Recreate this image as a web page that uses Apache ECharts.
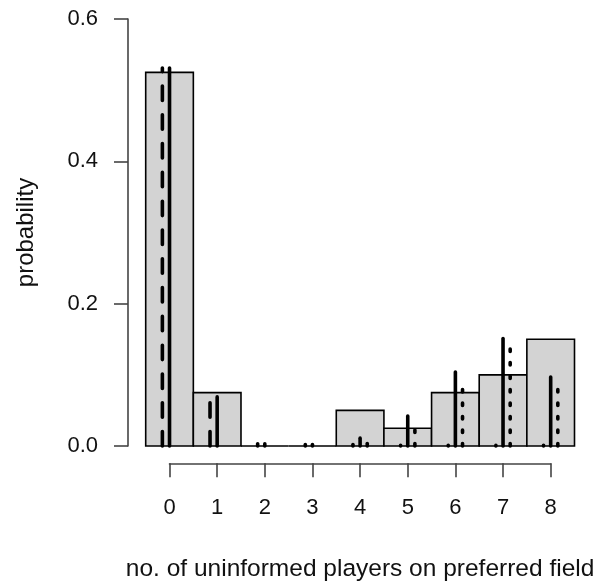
<!DOCTYPE html>
<html>
<head>
<meta charset="utf-8">
<script src="https://cdn.jsdelivr.net/npm/echarts@6/dist/echarts.min.js"></script>
<style>
html,body{margin:0;padding:0;background:#fff;}
#chart{width:600px;height:586px;}
</style>
</head>
<body>
<div id="chart"></div>
<script>
// categories: number of uninformed players on preferred field
const categories = [0, 1, 2, 3, 4, 5, 6, 7, 8];
// histogram bar probabilities
const barProb = [0.525, 0.075, 0, 0, 0.05, 0.025, 0.075, 0.1, 0.15];
// vertical line values (dashed left, solid centre, dotted right)
const dashedVals = [0.531, 0.066, 0.003, 0.002, 0.002, 0.001, 0.001, 0.001, 0.001];
const solidVals  = [0.531, 0.069, 0.003, 0.002, 0.011, 0.042, 0.104, 0.151, 0.097];
const dottedVals = [0.000, 0.000, 0.000, 0.000, 0.0075, 0.028, 0.092, 0.151, 0.093];
const yTickValues = [0, 0.2, 0.4, 0.6];
const xTitle = 'no. of uninformed players on preferred field';
const yTitle = 'probability';

const FONT = 'Liberation Sans, Arial, Helvetica, sans-serif';
const AXIS_COLOR = '#444';

const chart = echarts.init(document.getElementById('chart'), null, {renderer: 'canvas'});

function barRender(params, api) {
  const x = api.value(0), v = api.value(1);
  const p0 = api.coord([x - 0.5, 0]);
  const p1 = api.coord([x + 0.5, v]);
  return {
    type: 'rect',
    shape: {x: p0[0], y: p1[1], width: p1[0] - p0[0], height: p0[1] - p1[1]},
    style: {fill: '#d3d3d3', stroke: '#000', lineWidth: 1.6}
  };
}
function lineRenderer(offset, dash) {
  return function (params, api) {
    const x = api.value(0) + offset, v = api.value(1);
    const p0 = api.coord([x, 0]);
    const p1 = api.coord([x, v]);
    return {
      type: 'line',
      shape: {x1: p0[0], y1: p0[1], x2: p1[0], y2: p1[1]},
      style: {stroke: '#000', lineWidth: 3.6, lineDash: dash, lineCap: 'round', fill: null}
    };
  };
}
const pairs = arr => categories.map((c, i) => [c, arr[i]]);

chart.setOption({
  animation: false,
  grid: [
    {left: 145.7, right: 25.5, top: 19, bottom: 140, outerBoundsMode: 'none', containLabel: false},
    {left: 169.5, right: 49.3, top: 19, bottom: 140, outerBoundsMode: 'none', containLabel: false}
  ],
  xAxis: [
    {type: 'value', gridIndex: 0, min: -0.5, max: 8.5, show: false},
    {type: 'value', gridIndex: 1, min: 0, max: 8, interval: 1, position: 'bottom', offset: 17.3,
     axisLine: {show: true, onZero: false, lineStyle: {color: AXIS_COLOR, width: 1.6}},
     axisTick: {show: true, length: 14, lineStyle: {color: AXIS_COLOR, width: 1.6}},
     splitLine: {show: false},
     axisLabel: {show: true, margin: 34, color: '#111', fontSize: 22, fontFamily: FONT,
                 formatter: v => String(v), showMinLabel: true, showMaxLabel: true},
     name: xTitle, nameLocation: 'middle', nameGap: 93,
     nameTextStyle: {color: '#111', fontSize: 24.5, fontFamily: FONT, verticalAlign: 'top'}}
  ],
  yAxis: [
    {type: 'value', gridIndex: 0, min: 0, max: 0.6, interval: 0.2, position: 'left', offset: 17.7,
     axisLine: {show: true, onZero: false, lineStyle: {color: AXIS_COLOR, width: 1.6}},
     axisTick: {show: true, length: 14, lineStyle: {color: AXIS_COLOR, width: 1.6}},
     splitLine: {show: false},
     axisLabel: {show: true, margin: 30, color: '#111', fontSize: 22, fontFamily: FONT,
                 formatter: v => yTickValues.indexOf(Math.round(v * 10) / 10) >= 0 ? v.toFixed(1) : ''},
     name: yTitle, nameLocation: 'middle', nameGap: 90, nameRotate: 90,
     nameTextStyle: {color: '#111', fontSize: 24, fontFamily: FONT}},
    {type: 'value', gridIndex: 1, min: 0, max: 0.6, show: false}
  ],
  series: [
    {type: 'custom', xAxisIndex: 0, yAxisIndex: 0, renderItem: barRender, data: pairs(barProb), z: 1},
    {type: 'custom', xAxisIndex: 0, yAxisIndex: 0, renderItem: lineRenderer(-0.15, [14.4, 14.4]), data: pairs(dashedVals), z: 2},
    {type: 'custom', xAxisIndex: 0, yAxisIndex: 0, renderItem: lineRenderer(0, null), data: pairs(solidVals), z: 2},
    {type: 'custom', xAxisIndex: 0, yAxisIndex: 0, renderItem: lineRenderer(0.15, [2.5, 11]), data: pairs(dottedVals), z: 2}
  ]
});
</script>
</body>
</html>
